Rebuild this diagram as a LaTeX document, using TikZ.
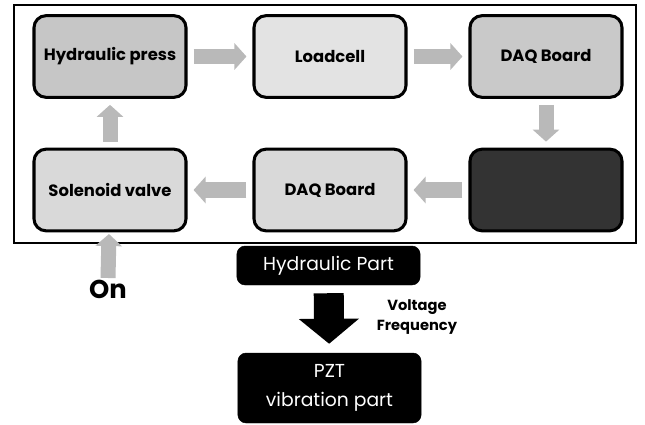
\documentclass[tikz,border=0pt]{standalone}
\usepackage{fontspec}
\setmainfont{Poppins}
\usetikzlibrary{arrows.meta}
\usetikzlibrary{positioning}

\tikzset{
  box/.style = {draw=black, line width=2.6pt, rounded corners=0.36cm,
    minimum width=4.56cm, minimum height=2.45cm, inner sep=0pt,
    font=\bfseries\fontsize{14}{16}\selectfont},
  blackbox/.style = {fill=black, draw=black, rounded corners=0.25cm,
    minimum width=5.5cm, inner sep=0pt, text=white,
    font=\fontsize{16}{19}\selectfont},
  flow/.style = {draw=gray!55, line width=0.45cm,
    -{Triangle[length=0.36cm, width=0.78cm]},
    shorten <=0.18cm, shorten >=0.18cm},
  bigflow/.style = {draw=black, line width=0.9cm,
    -{Triangle[length=0.75cm, width=1.77cm]},
    shorten <=0.24cm, shorten >=0.27cm}
}

\begin{document}
\begin{tikzpicture}[x=0.03cm, y=-0.03cm]
\def\colA{110}
\def\colB{330}
\def\colC{546}
\def\rowA{56.5}
\def\rowB{190}

\useasboundingbox (0,0) rectangle (645,425);

%% hydraulic loop
\draw[line width=1.2pt] (14,5) rectangle (636,243);
\node[box, fill=gray!45] (press) at (\colA,\rowA) {Hydraulic press};
\node[box, fill=gray!22] (cell) at (\colB,\rowA) {Loadcell};
\node[box, fill=gray!42] (daqin) at (\colC,\rowA) {DAQ Board};
\node[box, fill=black!80] (ctrl) at (\colC,\rowB) {};
\node[box, fill=gray!30] (daqout) at (\colB,\rowB) {DAQ Board};
\node[box, fill=gray!30] (valve) at (\colA,\rowB) {Solenoid valve};

\draw[flow] (press) -- (cell);
\draw[flow] (cell) -- (daqin);
\draw[flow] (daqin) -- (ctrl);
\draw[flow] (ctrl) -- (daqout);
\draw[flow] (daqout) -- (valve);
\draw[flow] (valve) -- (press);

%% start signal
\node[font=\bfseries\fontsize{22}{26}\selectfont] (on) at (108,289) {On};
\coordinate (onfoot) at (108,278);
\draw[flow, shorten <=0pt, shorten >=0.05cm] (onfoot) -- (valve);

%% vibration part
\node[blackbox, minimum height=1.17cm] (hpart) at (328.5,265.5) {Hydraulic Part};
\node[blackbox, minimum height=2.1cm, align=center] (pzt) at (329.5,388)
  {PZT\\[0.22cm]vibration part};
\draw[bigflow] (hpart) -- (pzt);
\node[font=\bfseries\fontsize{12.5}{17.5}\selectfont, align=center] (sig) at (417,317)
  {Voltage\\Frequency};
\end{tikzpicture}
\end{document}
